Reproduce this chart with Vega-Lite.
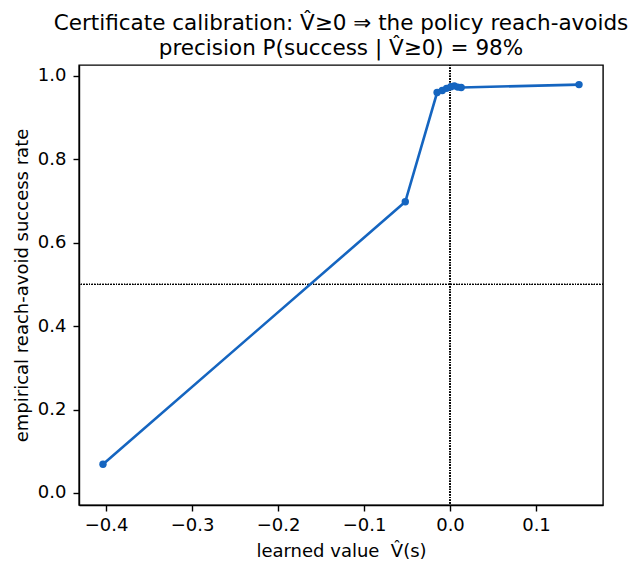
{
  "$schema": "https://vega.github.io/schema/vega-lite/v6.json",
  "autosize": "none",
  "padding": {"left": 79, "top": 65, "right": 40, "bottom": 69},
  "width": 524,
  "height": 440,
  "background": "white",
  "title": {
    "text": ["Certificate calibration: V\u0302\u22650 \u21d2 the policy reach-avoids", "precision P(success | V\u0302\u22650) = 98%"],
    "fontSize": 21.5,
    "font": "DejaVu Sans",
    "fontWeight": "normal",
    "color": "black",
    "lineHeight": 25.5,
    "anchor": "middle",
    "offset": 5
  },
  "data": {
    "values": [
      {"v": -0.4035, "rate": 0.069},
      {"v": -0.052, "rate": 0.698},
      {"v": -0.015, "rate": 0.960},
      {"v": -0.009, "rate": 0.965},
      {"v": -0.004, "rate": 0.970},
      {"v": 0.001, "rate": 0.974},
      {"v": 0.005, "rate": 0.976},
      {"v": 0.009, "rate": 0.973},
      {"v": 0.013, "rate": 0.972},
      {"v": 0.150, "rate": 0.979}
    ]
  },
  "layer": [
    {
      "mark": {"type": "rule", "color": "black", "strokeWidth": 1, "strokeDash": [1, 1.7]},
      "encoding": {"x": {"datum": 0, "type": "quantitative"}}
    },
    {
      "mark": {"type": "rule", "color": "black", "strokeWidth": 1, "strokeDash": [1, 1.7]},
      "encoding": {"y": {"datum": 0.5, "type": "quantitative"}}
    },
    {
      "mark": {"type": "line", "color": "#1565c0", "strokeWidth": 2.6, "point": {"filled": true, "size": 55, "color": "#1565c0", "opacity": 1}},
      "encoding": {
        "x": {
          "field": "v",
          "type": "quantitative",
          "title": "learned value \u00a0V\u0302(s)",
          "scale": {"domain": [-0.4314, 0.1779], "nice": false, "zero": false},
          "axis": {"values": [-0.4, -0.3, -0.2, -0.1, 0.0, 0.1], "format": ".1f"}
        },
        "y": {
          "field": "rate",
          "type": "quantitative",
          "title": "empirical reach-avoid success rate",
          "scale": {"domain": [-0.0288, 1.026], "nice": false, "zero": false},
          "axis": {"values": [0.0, 0.2, 0.4, 0.6, 0.8, 1.0], "format": ".1f"}
        }
      }
    }
  ],
  "config": {
    "font": "DejaVu Sans",
    "view": {"stroke": "black", "strokeWidth": 1.4},
    "axis": {
      "grid": false,
      "domainColor": "black",
      "domainWidth": 1.4,
      "tickColor": "black",
      "tickSize": 6,
      "tickWidth": 1.4,
      "labelColor": "black",
      "labelFontSize": 18,
      "labelFont": "DejaVu Sans",
      "titleColor": "black",
      "titleFontSize": 18,
      "titleFont": "DejaVu Sans",
      "titleFontWeight": "normal"
    },
    "axisX": {"labelPadding": 5, "titlePadding": 8},
    "axisY": {"labelPadding": 7, "titlePadding": 6}
  }
}
